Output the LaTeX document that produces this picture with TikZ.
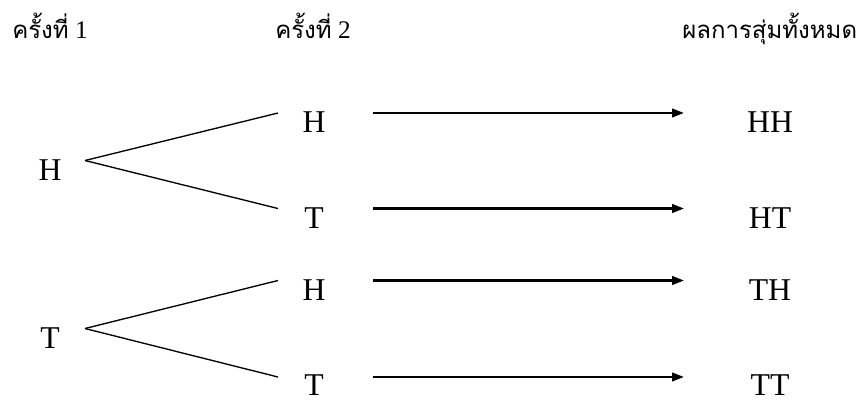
\documentclass[tikz,border=0pt]{standalone}
\usepackage{fontspec}
\setmainfont{Liberation Serif}
\newfontfamily\thaifont[Script=Thai]{Loma}
\usetikzlibrary{arrows.meta}
\tikzset{
   coin node/.style={inner sep=0pt,anchor=base,font=\fontsize{23.8}{28}\selectfont},
   head node/.style={inner sep=0pt,anchor=base west,font=\fontsize{19}{22}\selectfont},
   branch/.style={-,line width=1pt},
   result/.style={-{Triangle[length=9pt,width=6.5pt]},line width=1.7pt}
}
\newcommand{\thaitext}[1]{{\thaifont\fontsize{18}{22}\selectfont #1}}

\begin{document}
\begin{tikzpicture}[x=0.75pt,y=-0.75pt]
\useasboundingbox (0,0) rectangle (857,401);
% headers
\node[head node] (round1) at (12,38)  {\thaitext{ครั้งที่} 1};
\node[head node] (round2) at (275,38) {\thaitext{ครั้งที่} 2};
\node[head node] (outcome) at (682,38) {\thaitext{ผลการสุ่มทั้งหมด}};
% first toss
\node[coin node] (h1) at (50,180) {H};
\node[coin node] (t1) at (50,348) {T};
% second toss
\node[coin node] (hh2) at (314,132.5) {H};
\node[coin node] (ht2) at (314,228)   {T};
\node[coin node] (th2) at (314,300)   {H};
\node[coin node] (tt2) at (314,395.5) {T};
% outcomes
\node[coin node] (hh) at (770,132.5) {HH};
\node[coin node] (ht) at (770,228)   {HT};
\node[coin node] (th) at (770,300)   {TH};
\node[coin node] (tt) at (770,395.5) {TT};
%
\draw[branch] ([shift={(35,-19.5)}]h1.base) -- ([shift={(-36,-19.5)}]hh2.base);
\draw[branch] ([shift={(35,-19.5)}]h1.base) -- ([shift={(-36,-19.5)}]ht2.base);
\draw[branch] ([shift={(35,-19.5)}]t1.base) -- ([shift={(-36,-19.5)}]th2.base);
\draw[branch] ([shift={(35,-19.5)}]t1.base) -- ([shift={(-36,-18.5)}]tt2.base);
%
\draw[result] ([shift={(59,-19.5)}]hh2.base) -- ([shift={(-86,-19.5)}]hh.base);
\draw[result] ([shift={(59,-19.5)}]ht2.base) -- ([shift={(-86,-19.5)}]ht.base);
\draw[result] ([shift={(59,-19.5)}]th2.base) -- ([shift={(-86,-19.5)}]th.base);
\draw[result] ([shift={(59,-18.5)}]tt2.base) -- ([shift={(-86,-18.5)}]tt.base);
\end{tikzpicture}
\end{document}
